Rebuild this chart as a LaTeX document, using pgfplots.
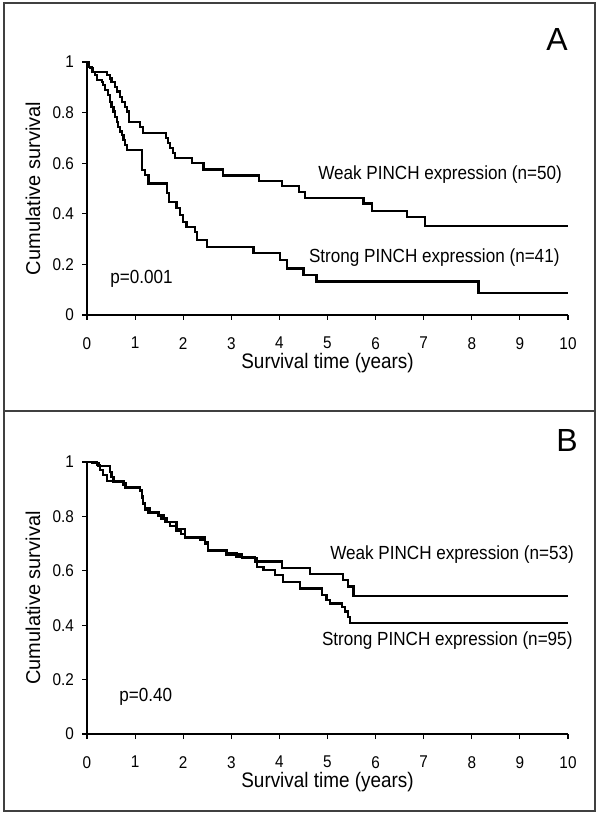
\documentclass[border=0pt]{standalone}
\usepackage{pgfplots}
\pgfplotsset{compat=1.18}
\usepackage{fontspec}
\setmainfont{Liberation Sans}[FakeStretch=0.9]
\newfontfamily\plainfont{Liberation Sans}

\pgfplotstableread{
t s
0 1
0.03 0.98
0.10 0.962
0.41 0.949
0.48 0.935
0.51 0.922
0.58 0.902
0.62 0.883
0.69 0.863
0.72 0.843
0.79 0.823
0.83 0.804
0.88 0.764
1.10 0.744
1.17 0.718
1.64 0.698
1.69 0.679
1.73 0.659
1.79 0.639
1.83 0.619
2.18 0.600
2.42 0.575
2.83 0.551
3.58 0.531
4.05 0.511
4.41 0.487
4.53 0.461
5.75 0.441
5.92 0.412
6.65 0.386
7.03 0.353
10 0.353
}\weakA

\pgfplotstableread{
t s
0 1
0.03 0.98
0.06 0.975
0.13 0.962
0.17 0.949
0.20 0.929
0.31 0.922
0.34 0.909
0.37 0.889
0.44 0.870
0.48 0.843
0.51 0.823
0.55 0.804
0.58 0.784
0.62 0.764
0.65 0.744
0.69 0.725
0.72 0.711
0.76 0.692
0.79 0.672
0.83 0.652
1.15 0.573
1.21 0.553
1.28 0.520
1.66 0.481
1.70 0.448
1.86 0.422
1.93 0.395
2.00 0.369
2.07 0.349
2.25 0.329
2.28 0.296
2.49 0.270
3.46 0.244
4.01 0.217
4.15 0.184
4.50 0.158
4.77 0.132
8.14 0.088
10 0.088
}\strongA

\pgfplotstableread{
t s
0 1
0.20 0.995
0.24 0.985
0.44 0.985
0.48 0.964
0.51 0.946
0.55 0.928
0.76 0.922
0.80 0.909
1.10 0.897
1.14 0.873
1.17 0.848
1.21 0.830
1.30 0.817
1.50 0.805
1.60 0.793
1.66 0.780
1.86 0.755
2.04 0.725
2.45 0.707
2.52 0.676
2.90 0.664
3.11 0.652
3.49 0.634
4.05 0.609
4.64 0.588
5.33 0.566
5.43 0.542
5.54 0.507
10 0.507
}\weakB

\pgfplotstableread{
t s
0 1
0.10 0.995
0.20 0.990
0.27 0.970
0.34 0.952
0.41 0.931
0.55 0.925
0.76 0.915
0.80 0.905
1.10 0.893
1.14 0.868
1.17 0.845
1.21 0.825
1.28 0.812
1.48 0.800
1.55 0.790
1.62 0.778
1.73 0.765
1.86 0.745
1.95 0.735
2.04 0.720
2.35 0.715
2.45 0.700
2.52 0.672
2.90 0.660
3.22 0.646
3.53 0.615
3.67 0.603
3.91 0.585
4.08 0.560
4.43 0.535
4.88 0.511
4.98 0.493
5.05 0.480
5.30 0.468
5.36 0.450
5.43 0.431
5.47 0.409
10 0.409
}\strongB

\pgfplotsset{
  km/.style={
    scale only axis, width=481bp,
    xmin=0, xmax=10, ymin=0, ymax=1,
    axis lines*=left,
    axis line style={line width=1.1bp, black},
    tick align=outside, major tick length=5bp,
    tick style={line width=1.1bp, black},
    xtick={0,1,2,3,4,5,6,7,8,9,10},
    xticklabels={0,1,2,3,4,5,6,7,8,9,10},
    ytick={0,0.2,0.4,0.6,0.8,1},
    yticklabels={0,0.2,0.4,0.6,0.8,1},
    xticklabel style={font=\fontsize{17bp}{17bp}\selectfont, anchor=north, inner sep=0pt, yshift=-17bp},
    yticklabel style={font=\fontsize{17bp}{17bp}\selectfont, anchor=east, inner sep=0pt, xshift=-8bp},
    ylabel={Cumulative survival},
    ylabel style={font=\plainfont\fontsize{20bp}{20bp}\selectfont, at={(axis description cs:-0.1123,0.5)}, anchor=center},
    xlabel={Survival time (years)},
    xlabel style={font=\fontsize{21bp}{21bp}\selectfont, anchor=center},
    clip=false,
    /pgf/number format/assume math mode=true,
  },
  kmline/.style={const plot, no marks, black, line width=2.2bp, line join=miter},
}

\begin{document}
\begin{tikzpicture}
\path[use as bounding box] (0bp,0bp) rectangle (600bp,818bp);
\draw[line width=1.3bp, black!75] (4bp,407bp) rectangle (595bp,815bp);
\draw[line width=1.3bp, black!75] (4bp,7bp) rectangle (595bp,407bp);
\node[font=\plainfont\fontsize{32bp}{32bp}\selectfont] at (557bp,778bp) {A};
\node[font=\plainfont\fontsize{32bp}{32bp}\selectfont] at (567bp,378bp) {B};

\begin{axis}[km, height=253bp, at={(87bp,503bp)}, anchor=south west,
  xlabel style={at={(axis description cs:0.5,-0.19)}}]
  \addplot[kmline] table[x=t, y=s] {\weakA};
  \addplot[kmline] table[x=t, y=s] {\strongA};
  \node[font=\fontsize{19bp}{19bp}\selectfont] at (axis cs:7.34,0.553) {Weak PINCH expression (n=50)};
  \node[font=\fontsize{19bp}{19bp}\selectfont] at (axis cs:7.22,0.225) {Strong PINCH expression (n=41)};
  \node[font=\fontsize{19bp}{19bp}\selectfont, anchor=west, inner sep=0pt] at (axis cs:0.48,0.142) {p=0.001};
\end{axis}

\begin{axis}[km, height=272bp, at={(87bp,84bp)}, anchor=south west,
  xlabel style={at={(axis description cs:0.5,-0.178)}}]
  \addplot[kmline] table[x=t, y=s] {\weakB};
  \addplot[kmline] table[x=t, y=s] {\strongB};
  \node[font=\fontsize{19bp}{19bp}\selectfont] at (axis cs:7.59,0.658) {Weak PINCH expression (n=53)};
  \node[font=\fontsize{19bp}{19bp}\selectfont] at (axis cs:7.49,0.342) {Strong PINCH expression (n=95)};
  \node[font=\fontsize{19bp}{19bp}\selectfont, anchor=west, inner sep=0pt] at (axis cs:0.67,0.136) {p=0.40};
\end{axis}
\end{tikzpicture}
\end{document}
